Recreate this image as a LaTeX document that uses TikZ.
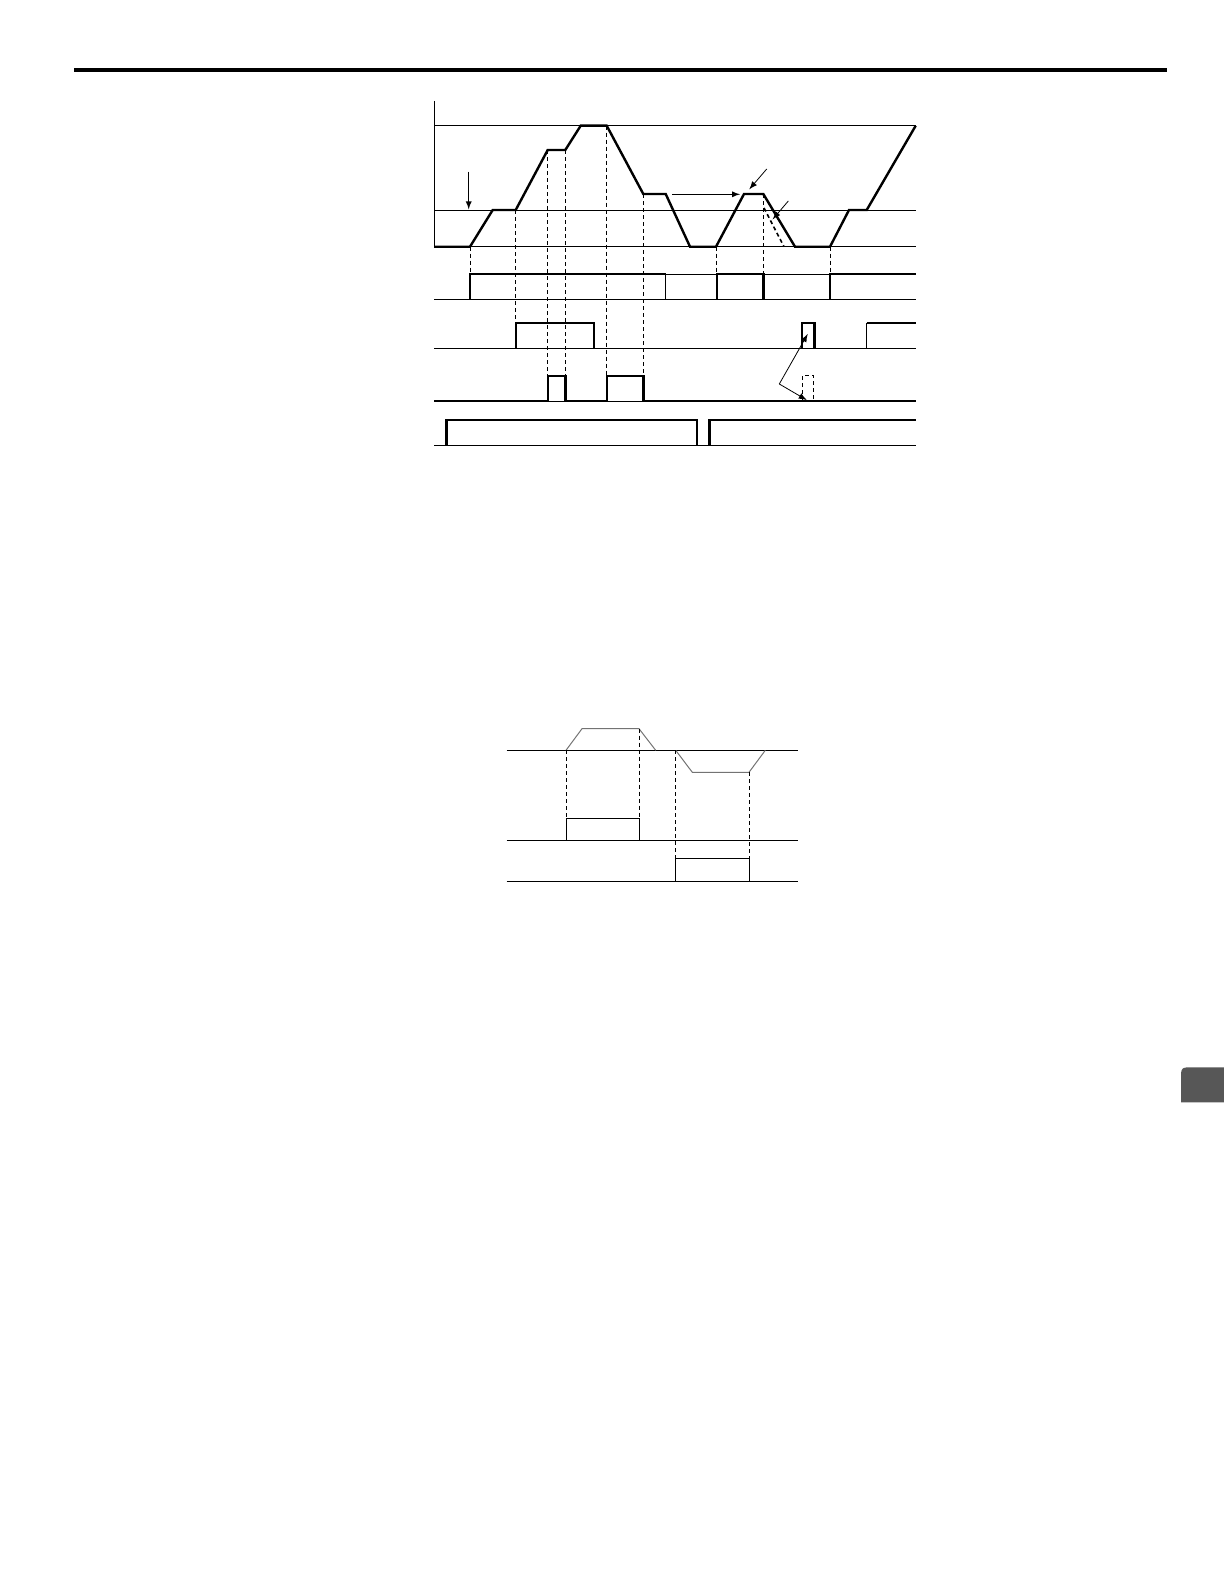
\documentclass[tikz,border=0pt]{standalone}
\usetikzlibrary{arrows}

\begin{document}
\begin{tikzpicture}[x=0.5pt, y=-0.5pt,
    sig/.style={line width=1.2pt},
    ref/.style={line width=0.5pt},
    guide/.style={line width=0.5pt, dash pattern=on 2pt off 1.5pt},
    note/.style={line width=0.4pt, -latex},
    ramp/.style={line width=0.5pt, black!55}]
%      \draw [help lines, opacity=0.3, step=100] (0,0) grid (1224,1584);
      \useasboundingbox (0,0) rectangle (1224,1584);
      \fill (74,68.5) rectangle (1167,72.5);

      % speed
      \draw [ref] (434,101) -- (434,246.7);
      \foreach \y in {125.7,210,246.7}
        \draw [ref] (434,\y) -- (916,\y);
      \draw [sig] (434,246.7) -- (470,246.7) -- (492.7,210) -- (515.7,210)
        -- (547.7,150) -- (565.3,150) -- (580.7,125.7) -- (606.7,125.7)
        -- (643.3,194) -- (665.7,194) -- (690,246.7) -- (716,246.7)
        -- (744,194) -- (763.3,194) -- (795,246.7) -- (830,246.7)
        -- (849,210) -- (866.7,210) -- (915.7,125.7);
      \draw [guide, line width=0.8pt] (764,208) -- (784,246.7);

      \coordinate (cmd top) at (468.7,171.7);
      \coordinate (cmd bot) at (468.7,209.3);
      \draw [note] (cmd top) -- (cmd bot);
      \coordinate (hold from) at (672.3,194.3);
      \coordinate (hold to) at (740,194.3);
      \draw [note] (hold from) -- (hold to);
      \coordinate (peak tail) at (766.7,169);
      \coordinate (peak head) at (749.3,189.3);
      \draw [note] (peak tail) -- (peak head);
      \coordinate (dec tail) at (788.3,201);
      \coordinate (dec head) at (772.7,219.3);
      \draw [note] (dec tail) -- (dec head);

      % guides down to the signals
      \foreach \x/\y/\e in {470/246.7/274, 515.7/210/322.7, 547.7/150/375.7,
          565.3/150/375.7, 606.7/125.7/375.7, 643.3/194/375.7,
          716.7/246.7/274, 763.3/194/274, 830/246.7/274}
        \draw [guide] (\x,\y) -- (\x,\e);

      % signal 1
      \draw [ref] (434,299.3) -- (916,299.3);
      \draw [ref] (665.7,299.3) -- (665.7,274) -- (916,274);
      \draw [sig] (470,299.3) -- (470,274) -- (665.7,274);
      \draw [sig] (716.7,299.3) -- (716.7,274) -- (763.3,274) -- (763.3,299.3);
      \draw [sig] (830,299.3) -- (830,274) -- (916,274);

      % signal 2
      \draw [ref] (434,348.3) -- (916,348.3);
      \draw [sig] (515.7,348.3) -- (515.7,322.7) -- (594,322.7) -- (594,348.3);
      \draw [sig] (801.7,348.3) -- (801.7,322.7) -- (814.3,322.7) -- (814.3,348.3);
      \draw [ref] (866.7,348.3) -- (866.7,322.7);
      \draw [sig] (866.7,322.7) -- (916,322.7);

      % signal 3
      \draw [ref] (547.7,401) -- (565.3,401);
      \draw [ref] (606.7,401) -- (643.3,401);
      \draw [sig] (434,401) -- (547.7,401) -- (547.7,375.7) -- (565.3,375.7)
        -- (565.3,401) -- (606.7,401) -- (606.7,375.7) -- (643.3,375.7)
        -- (643.3,401) -- (916,401);
      \draw [guide] (802.3,401) -- (802.3,375.7) -- (813.7,375.7) -- (813.7,401);
      \coordinate (fork) at (779.3,384);
      \coordinate (fork up) at (807.7,334);
      \coordinate (fork dn) at (806.7,400);
      \draw [note] (fork) -- (fork up);
      \draw [note] (fork) -- (fork dn);

      % signal 4
      \draw [ref] (434,445) -- (916,445);
      \draw [sig] (446.3,445) -- (446.3,420) -- (697,420) -- (697,445);
      \draw [sig] (709.3,445) -- (709.3,420) -- (916,420);

      % second chart
      \foreach \y in {750.3,840,881}
        \draw [ref] (506.7,\y) -- (798.3,\y);
      \draw [ramp] (566,750.3) -- (582,728.7) -- (639,728.7) -- (655.7,750.3);
      \draw [ramp] (675.7,750.3) -- (692.3,772.3) -- (749,772.3) -- (765.3,750.3);
      \draw [guide] (566,750.3) -- (566,818.3);
      \draw [guide] (639,728.7) -- (639,818.3);
      \draw [guide] (675.7,750.3) -- (675.7,858.3);
      \draw [guide] (749,772.3) -- (749,858.3);
      \draw [ref] (566,840) -- (566,818.3) -- (639,818.3) -- (639,840);
      \draw [ref] (675.7,881) -- (675.7,858.3) -- (749,858.3) -- (749,881);

      % tab
      \fill [black!66] (1181,1102.3) -- (1181,1079.3) .. controls (1181,1067.3) .. (1193,1067.3)
        -- (1224,1067.3) -- (1224,1102.3) -- cycle;
\end{tikzpicture}
\end{document}
